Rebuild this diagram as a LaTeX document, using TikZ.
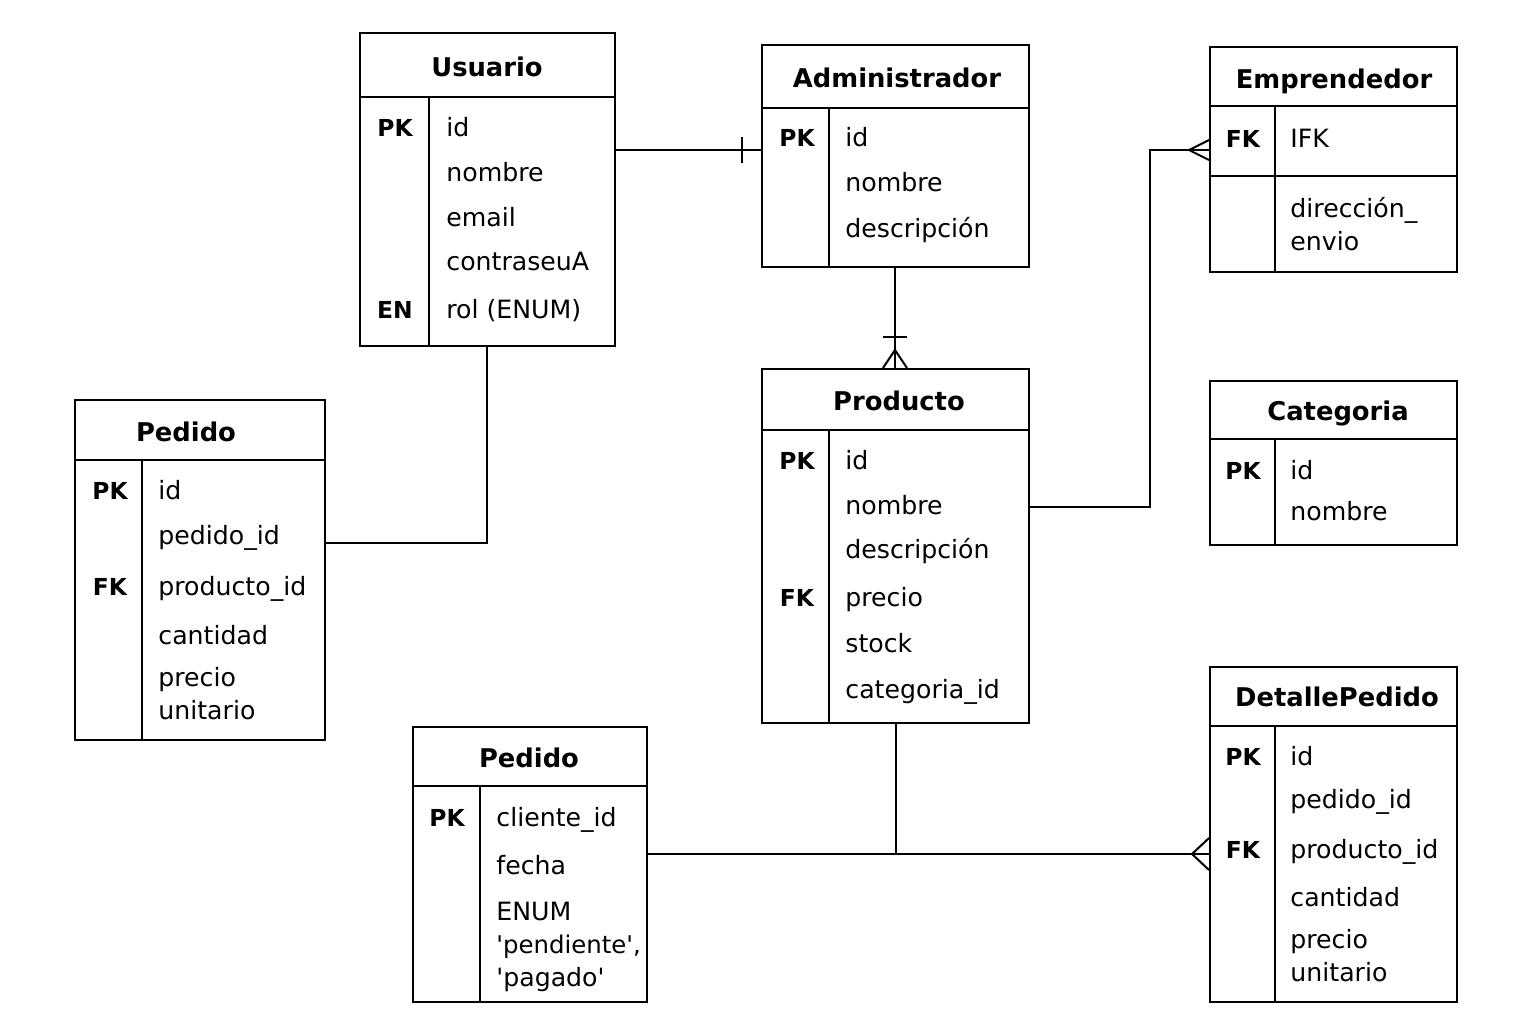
\documentclass[tikz,border=0pt]{standalone}
\usepackage{fontspec}
\setmainfont{DejaVu Sans}
\usetikzlibrary{fit}
\tikzset{
  ln/.style={line width=1pt, line cap=rect},
  box/.style={draw, line width=1pt, inner sep=0pt},
  attr/.style={anchor=west, inner sep=0pt, yshift=-1pt, text height=0.73em, text depth=0pt, font=\fontsize{12.6}{15}\selectfont},
  keyl/.style={anchor=center, inner sep=0pt, yshift=-1pt, text height=0.73em, text depth=0pt, font=\fontsize{11.7}{14}\selectfont\bfseries},
  ttl/.style={anchor=center, inner sep=0pt, yshift=-1pt, text height=0.73em, text depth=0pt, font=\fontsize{12.9}{15}\selectfont\bfseries},
  conn/.style={line width=1pt}
}
\newcommand\erbox[7]{%
  \node[box, fit={(#2,#3)(#4,#5)}] (#1) {};
  \draw[ln] (#2,#6) -- (#4,#6);
  \draw[ln] (#7,#6) -- (#7,#5);
}
\newcommand\sq{\textquotesingle}
\begin{document}
\begin{tikzpicture}[x=0.5pt,y=-0.5pt]
\useasboundingbox (0,0) rectangle (1536,1024);
\fill[white] (0,0) rectangle (1536,1024);

% ---------- Usuario
\erbox{usuario}{360}{33}{615}{346}{97}{429}
\node[ttl] (usuarioT) at (487,67) {Usuario};
\node[keyl] (uk1) at (395,127) {PK};
\node[keyl] (uk2) at (395,309) {EN};
\node[attr] (ua1) at (446,127) {id};
\node[attr] (ua2) at (446,172) {nombre};
\node[attr] (ua3) at (446,217) {email};
\node[attr] (ua4) at (446,261) {contraseuA};
\node[attr] (ua5) at (446,309) {rol (ENUM)};

% ---------- Administrador
\erbox{admin}{762}{45}{1029}{267}{108}{829}
\node[ttl] (adminT) at (897,78) {Administrador};
\node[keyl] (ak1) at (797,137) {PK};
\node[attr] (aa1) at (845,137) {id};
\node[attr] (aa2) at (845,182) {nombre};
\node[attr] (aa3) at (845,228) {descripción};

% ---------- Emprendedor
\erbox{emp}{1210}{47}{1457}{272}{106}{1275}
\draw[ln] (1210,176) -- (1457,176);
\node[ttl] (empT) at (1334,79) {Emprendedor};
\node[keyl] (ek1) at (1243,138) {FK};
\node[attr] (ea1) at (1290,138) {IFK};
\node[attr] (ea2) at (1290,208) {dirección\_};
\node[attr] (ea3) at (1290,241) {envio};

% ---------- Categoria
\erbox{cat}{1210}{381}{1457}{545}{439}{1275}
\node[ttl] (catT) at (1338,411) {Categoria};
\node[keyl] (ck1) at (1243,470) {PK};
\node[attr] (ca1) at (1290,470) {id};
\node[attr] (ca2) at (1290,511) {nombre};

% ---------- Producto
\erbox{prod}{762}{369}{1029}{723}{430}{829}
\node[ttl] (prodT) at (899,401) {Producto};
\node[keyl] (pk1) at (797,460) {PK};
\node[keyl] (pk2) at (797,597) {FK};
\node[attr] (pa1) at (845,460) {id};
\node[attr] (pa2) at (845,505) {nombre};
\node[attr] (pa3) at (845,549) {descripción};
\node[attr] (pa4) at (845,597) {precio};
\node[attr] (pa5) at (845,643) {stock};
\node[attr] (pa6) at (845,689) {categoria\_id};

% ---------- Pedido (left)
\erbox{pedL}{75}{400}{325}{740}{460}{142}
\node[ttl] (pedLT) at (186,432) {Pedido};
\node[keyl] (lk1) at (110,490) {PK};
\node[keyl] (lk2) at (110,586) {FK};
\node[attr] (la1) at (158,490) {id};
\node[attr] (la2) at (158,535) {pedido\_id};
\node[attr] (la3) at (158,586) {producto\_id};
\node[attr] (la4) at (158,635) {cantidad};
\node[attr] (la5) at (158,677) {precio};
\node[attr] (la6) at (158,710) {unitario};

% ---------- Pedido (bottom)
\erbox{pedB}{413}{727}{647}{1002}{786}{480}
\node[ttl] (pedBT) at (529,758) {Pedido};
\node[keyl] (bk1) at (447,817) {PK};
\node[attr] (ba1) at (496,817) {cliente\_id};
\node[attr] (ba2) at (496,865) {fecha};
\node[attr] (ba3) at (496,911) {ENUM};
\node[attr, font=\fontsize{12.2}{15}\selectfont] (ba4) at (496,944) {\sq pendiente\sq,};
\node[attr] (ba5) at (496,977) {\sq pagado\sq};

% ---------- DetallePedido
\erbox{det}{1210}{667}{1457}{1002}{726}{1275}
\node[ttl] (detT) at (1337,697) {DetallePedido};
\node[keyl] (dk1) at (1243,756) {PK};
\node[keyl] (dk2) at (1243,849) {FK};
\node[attr] (da1) at (1290,756) {id};
\node[attr] (da2) at (1290,799) {pedido\_id};
\node[attr] (da3) at (1290,849) {producto\_id};
\node[attr] (da4) at (1290,897) {cantidad};
\node[attr] (da5) at (1290,939) {precio};
\node[attr] (da6) at (1290,972) {unitario};

% ---------- connectors
\coordinate (c1) at (0,150);
\coordinate (c1bar) at (742,150);
\draw[conn] (usuario.east |- c1) -- (admin.west |- c1);
\draw[conn] ([yshift=-6.5pt]c1bar) -- ([yshift=6.5pt]c1bar);

% Administrador -> Producto
\coordinate (c2) at (895,0);
\coordinate (c2bar) at (895,337);
\coordinate (c2apex) at (895,350);
\draw[conn] (admin.south -| c2) -- (prod.north -| c2);
\draw[conn] ([xshift=-6pt]c2bar) -- ([xshift=6pt]c2bar);
\draw[conn] ([xshift=-6pt]prod.north -| c2) -- (c2apex) -- ([xshift=6pt]prod.north -| c2);

% Producto -> Emprendedor
\coordinate (c3) at (0,507);
\coordinate (c3k) at (1150,507);
\coordinate (c4) at (0,150);
\coordinate (c4apex) at (1189,150);
\draw[conn] (prod.east |- c3) -- (c3k) |- (emp.west |- c4);
\draw[conn] ([yshift=5pt]emp.west |- c4) -- (c4apex) -- ([yshift=-5pt]emp.west |- c4);

% Usuario -> Pedido (left)
\coordinate (c5) at (487,543);
\draw[conn] (usuario.south -| c5) -- (c5) -- (pedL.east |- c5);

% Pedido (bottom) -> DetallePedido
\coordinate (c6) at (0,854);
\coordinate (c6apex) at (1192,854);
\coordinate (c6j) at (896,854);
\draw[conn] (pedB.east |- c6) -- (det.west |- c6);
\draw[conn] ([yshift=8pt]det.west |- c6) -- (c6apex) -- ([yshift=-8pt]det.west |- c6);

% Producto -> junction
\draw[conn] (prod.south -| c6j) -- (c6j);
\end{tikzpicture}
\end{document}
